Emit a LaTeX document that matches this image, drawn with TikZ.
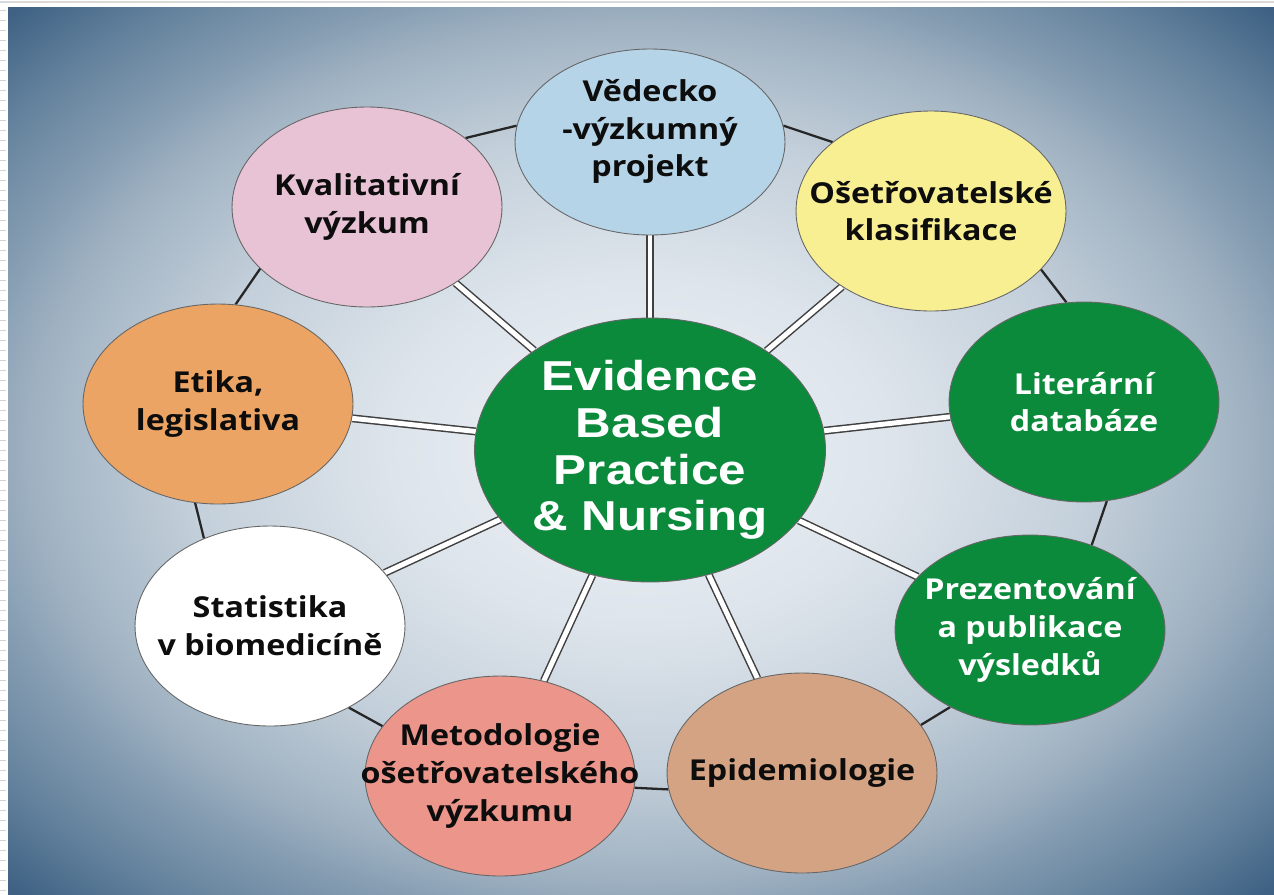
\documentclass[tikz,border=0pt]{standalone}
\usepackage{fontspec}
\usepackage{xcolor}
\usetikzlibrary{shapes.geometric,backgrounds}

\newfontfamily\lblfont[FakeStretch=1.12]{Open Sans}
\newfontfamily\ebpfont[FakeStretch=1.18]{Liberation Sans}

\definecolor{ebpgreen}{HTML}{0B8A3B}
\definecolor{vedblue}{HTML}{B6D4E8}
\definecolor{klasyellow}{HTML}{F8EF92}
\definecolor{epitan}{HTML}{D4A383}
\definecolor{metsalmon}{HTML}{EC958A}
\definecolor{etorange}{HTML}{ECA464}
\definecolor{kvalpink}{HTML}{E8C3D5}
\definecolor{bga}{HTML}{EEF2F6}
\definecolor{bgb}{HTML}{DDE4EB}
\definecolor{bgc}{HTML}{C3CFDA}
\definecolor{bgd}{HTML}{A0B2C2}
\definecolor{bge}{HTML}{849CB1}
\definecolor{bgf}{HTML}{64829D}
\definecolor{bgg}{HTML}{3F6284}

\pgfdeclareradialshading{slidebg}{\pgfpoint{0bp}{0bp}}{%
  color(0bp)=(bga); color(10bp)=(bgb); color(18bp)=(bgc);
  color(24bp)=(bgd); color(27bp)=(bge); color(31bp)=(bgf);
  color(35bp)=(bgg); color(50bp)=(bgg)}

\begin{document}
\begin{tikzpicture}[x=0.02cm, y=-0.02cm,
  topic/.style={ellipse, draw=black!60, line width=0.5pt, inner sep=0pt,
    minimum width=5.4cm, minimum height=4cm},
  topictext/.style={align=center, text=black!95,
    font=\lblfont\bfseries\fontsize{16.4}{21.5}\selectfont},
  spoke/.style={draw=black!75, line width=0.85pt, double=white, double distance=2.8pt},
  ring/.style={draw=black!85, line width=1.3pt}]

  \useasboundingbox (0,0) rectangle (1274,894);

  % centre
  \node[ellipse, draw=black!60, line width=0.5pt, fill=ebpgreen, inner sep=0pt,
    minimum width=7.02cm, minimum height=5.28cm] (ebp) at (650,450) {};
  \node[align=center, text=white,
    font=\ebpfont\bfseries\fontsize{23.8}{26.6}\selectfont] (ebp-txt) at (ebp)
    {Evidence\\Based\\Practice\\\& Nursing};

  % topics round the centre
  \node[topic, fill=vedblue, minimum height=3.72cm] (vedecko) at (650,142) {};
  \node[topic, fill=klasyellow] (klasif) at (931,211) {};
  \node[topic, fill=ebpgreen] (literar) at (1084,402) {};
  \node[topic, fill=ebpgreen, minimum height=3.8cm] (prezent) at (1030,630) {};
  \node[topic, fill=epitan] (epidem) at (802,773) {};
  \node[topic, fill=metsalmon] (metod) at (500,776) {};
  \node[topic, fill=white] (statist) at (270,626) {};
  \node[topic, fill=etorange] (etika) at (218,404) {};
  \node[topic, fill=kvalpink] (kvalit) at (367,207) {};

  \node[topictext, yshift=6pt] (vedecko-txt) at (vedecko) {Vědecko\\-výzkumný\\projekt};
  \node[topictext] (klasif-txt) at (klasif) {Ošetřovatelské\\klasifikace};
  \node[topictext, text=white] (literar-txt) at (literar) {Literární\\databáze};
  \node[topictext, text=white] (prezent-txt) at (prezent) {Prezentování\\a publikace\\výsledků};
  \node[topictext] (epidem-txt) at (epidem) {Epidemiologie};
  \node[topictext] (metod-txt) at (metod) {Metodologie\\ošetřovatelského\\výzkumu};
  \node[topictext] (statist-txt) at (statist) {Statistika\\v biomedicíně};
  \node[topictext] (etika-txt) at (etika) {Etika,\\legislativa};
  \node[topictext] (kvalit-txt) at (kvalit) {Kvalitativní\\výzkum};

  \begin{scope}[on background layer]
    \fill[white] (0,0) rectangle (1274,894);
    \shade[shading=slidebg] (8,7) rectangle (1274,894);
    \draw[gray!30, line width=0.6pt] (0,2) -- (1274,2);
    \foreach \yy in {10,20,...,890}
      \draw[gray!35, line width=0.5pt] (0,\yy) -- (6,\yy);

    % outer ring
    \draw[ring] (kvalit.35) -- (vedecko.173);
    \draw[ring] (vedecko.7) -- (klasif.145);
    \draw[ring] (klasif.-28) -- (literar.100);
    \draw[ring] (literar.-77) -- (prezent.54);
    \draw[ring] (prezent.-136) -- (epidem.22);
    \draw[ring] (epidem.-173) -- (metod.-5);
    \draw[ring] (metod.157) -- (statist.-46);
    \draw[ring] (statist.127) -- (etika.-103);
    \draw[ring] (etika.80) -- (kvalit.-150);

    % spokes
    \foreach \t in {vedecko,klasif,literar,prezent,epidem,metod,statist,etika,kvalit}
      \draw[spoke] (ebp) -- (\t);
  \end{scope}
\end{tikzpicture}
\end{document}
